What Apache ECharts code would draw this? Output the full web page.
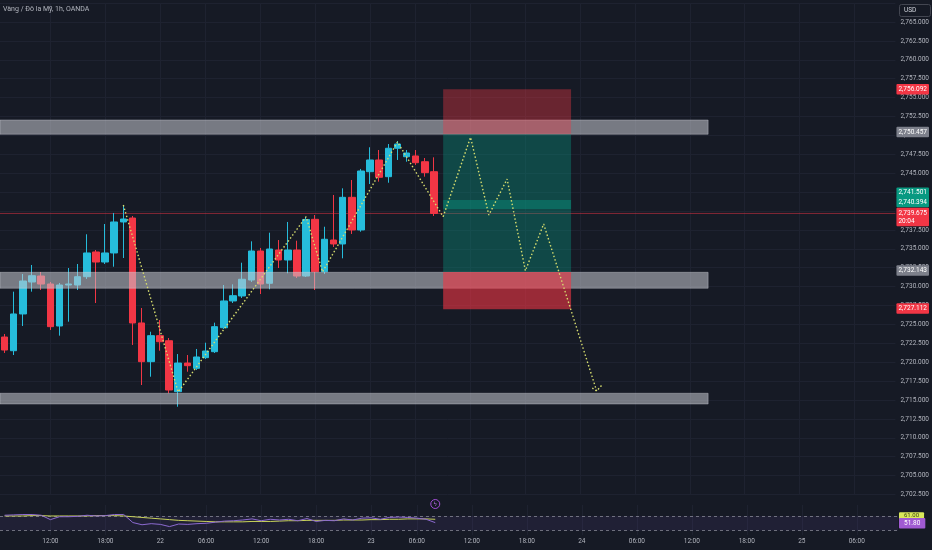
<!DOCTYPE html>
<html><head><meta charset="utf-8">
<script src="https://cdn.jsdelivr.net/npm/echarts@6/dist/echarts.min.js"></script>
<style>html,body{margin:0;padding:0;background:#161a25;}#c{width:932px;height:550px;}</style>
</head><body><div id="c"></div>
<script>
// ---------- data ----------
const chartTitle = 'Vàng / Đô la Mỹ, 1h, OANDA';
const currencyLabel = 'USD';
const countdownText = '20:04';
const firstDay = 21, firstHour = 7, slotCount = 98, closedHour = 5, closedDays = [22, 23];

const opens = [2723.33, 2721.52, 2726.38, 2730.61, 2731.40, 2730.34, 2724.79, 2730.21, 2730.21, 2731.31, 2734.58, 2733.25, 2734.45, 2738.55, 2739.07, 2725.19, 2720.07,
  2723.51, 2722.84, 2716.10, 2719.89, 2719.19, 2720.60, 2721.39, 2724.56, 2728.10, 2728.76, 2730.87, 2734.71, 2730.44, 2734.84, 2733.52, 2734.84, 2731.40, 2738.90, 2731.97, 2736.16, 2735.64, 2741.81, 2737.49,
  2745.20, 2746.75, 2744.54, 2748.30, 2747.18, 2747.28, 2746.52, 2745.20];
const closes = [2721.61, 2726.38, 2730.74, 2731.44, 2730.34, 2724.70, 2730.21, 2730.34, 2731.31, 2734.45, 2733.25, 2734.45, 2738.55, 2738.94, 2725.19, 2720.07, 2723.51,
  2722.71, 2716.32, 2719.89, 2719.54, 2720.69, 2721.48, 2724.70, 2728.10, 2728.80, 2730.97, 2734.71, 2730.34, 2734.97, 2733.52, 2734.84, 2731.40, 2738.88, 2731.97, 2736.26, 2735.64, 2741.81, 2737.49, 2745.29,
  2746.75, 2744.46, 2748.30, 2748.86, 2747.67, 2746.39, 2745.07, 2739.675];
const highs = [2723.73, 2729.33, 2731.67, 2732.86, 2731.93, 2730.61, 2730.48, 2732.46, 2732.99, 2736.92, 2734.84, 2738.28, 2739.74, 2740.79, 2739.34, 2727.17, 2724.03,
  2725.58, 2723.20, 2721.08, 2720.95, 2721.75, 2722.58, 2725.23, 2730.21, 2730.30, 2733.16, 2735.99, 2735.11, 2737.13, 2736.16, 2738.55, 2736.07, 2739.21, 2739.47, 2737.92, 2742.12, 2743.00, 2744.10, 2745.56,
  2748.43, 2748.07, 2748.86, 2749.26, 2748.07, 2748.07, 2747.01, 2747.10];
const lows = [2721.22, 2720.95, 2724.79, 2729.33, 2729.55, 2724.26, 2723.51, 2725.36, 2729.55, 2731.01, 2727.83, 2732.99, 2732.63, 2733.78, 2722.28, 2716.98, 2718.08,
  2721.52, 2715.89, 2714.11, 2718.74, 2718.97, 2720.42, 2721.22, 2724.39, 2727.83, 2728.49, 2730.61, 2729.02, 2729.64, 2732.46, 2731.76, 2731.14, 2731.27, 2729.55, 2731.67, 2735.24, 2733.74, 2736.96, 2737.26,
  2743.57, 2743.88, 2743.74, 2746.75, 2746.52, 2746.09, 2744.54, 2739.34];

const rsiValues = [72, 73, 74, 74, 72, 60, 68, 68, 69, 72, 70, 71, 74, 74, 52, 46, 49, 47, 41, 48, 47, 49, 50, 53, 56, 57, 59, 62, 57, 61, 59, 61, 57, 63, 55, 58, 57, 62, 59, 64, 65, 61, 66, 67, 66, 64, 61, 51.8];
const rsiMaValues = [70, 70, 70, 71, 71, 70, 70, 70, 70, 70, 71, 71, 71, 70, 68, 66, 64, 62, 60, 58, 57, 56, 55, 54, 54, 54, 54, 55, 55, 55, 56, 57, 57, 58, 58, 58, 58, 59, 59, 59, 60, 60, 61, 61, 62, 62, 62, 61];
const rsiLevels = [70, 30];

// price-axis ticks
const priceMin = 2702.5, priceMax = 2767.5, priceStep = 2.5;

// horizontal zones (gray rectangles), from left edge to slot bandEndSlot
const bandTops = [2752.04, 2731.89, 2715.89];
const bandBottoms = [2750.15, 2729.78, 2714.47];
const bandEndSlot = 77;
// position tool
const posStartSlot = 48, posEndSlot = 62;
const stopZone = [2756.09, 2750.15];
const targetZone = [2750.15, 2731.93];
const entryZone = [2741.45, 2740.25];
const lowerStopZone = [2731.93, 2727.0];

// dotted zig-zag drawings (slot index, price)
const pastPathX = [13, 19, 33, 34.8, 43, 48];
const pastPathY = [2740.79, 2716.06, 2739.25, 2731.95, 2749.13, 2739.25];
const projPathX = [48, 51, 53, 55, 57, 59, 64.8];
const projPathY = [2739.25, 2749.75, 2739.47, 2744.23, 2732.10, 2738.28, 2716.19];
const arrowX = [64.32, 64.8, 65.38];
const arrowY = [2716.59, 2716.19, 2716.98];

// price tags on the axis
const tagValues = [2756.092, 2750.457, 2741.501, 2740.394, 2739.675, 2732.143, 2727.112];
const tagKinds = ['red', 'gray', 'green', 'green', 'red', 'gray', 'red'];
const lastPrice = 2739.675;

// ---------- build ----------
const categories = [];
{
  let d = firstDay, h = firstHour;
  while (categories.length < slotCount) {
    if (!(h === closedHour && closedDays.includes(d))) categories.push(d + ' ' + String(h).padStart(2, '0') + ':00');
    h++; if (h === 24) { h = 0; d++; }
  }
}
const hourOf = v => parseInt(v.split(' ')[1], 10);
const isLabelSlot = v => hourOf(v) % 6 === 0;
const labelSlots = categories.map((v, i) => isLabelSlot(v) ? i : -1).filter(i => i >= 0);
const fmtTime = v => { const [d, t] = v.split(' '); return t === '00:00' ? d : t; };
const fmtPrice = v => v.toLocaleString('en-US', {minimumFractionDigits: 3, maximumFractionDigits: 3});

const candles = opens.map((o, i) => [o, closes[i], lows[i], highs[i]]);
const FONT = 'Roboto, sans-serif';
const UP = '#26bcdb', DOWN = '#f23645', GREEN = '#089981', GRAY = '#7d808b';
const GRID = '#1e2230';
const NONE = 'rgba(0,0,0,0)';
const tagColor = {red: DOWN, gray: GRAY, green: GREEN};
const tagOffsets = [0, 0, -7, -6, 3.5, 0, 0];

const dotted = {type: [1.5, 2.2], width: 1.4, color: '#d6dc6e'};
const zoneRect = (x0, x1, a, b, style) => [{xAxis: x0, yAxis: a, itemStyle: style}, {xAxis: x1, yAxis: b}];
const bandStyle = {color: 'rgba(200,202,210,0.55)', borderColor: 'rgba(220,222,230,0.35)', borderWidth: 1};

const zoneData = [];
bandTops.forEach((t, i) => zoneData.push(zoneRect(-0.5, bandEndSlot, t, bandBottoms[i], bandStyle)));
zoneData.push(zoneRect(posStartSlot, posEndSlot, stopZone[0], stopZone[1], {color: 'rgba(242,54,69,0.38)'}));
zoneData.push(zoneRect(posStartSlot, posEndSlot, targetZone[0], targetZone[1], {color: 'rgba(8,153,129,0.37)'}));
zoneData.push(zoneRect(posStartSlot, posEndSlot, entryZone[0], entryZone[1], {color: 'rgba(8,153,129,0.42)'}));
zoneData.push(zoneRect(posStartSlot, posEndSlot, lowerStopZone[0], lowerStopZone[1], {color: 'rgba(242,54,69,0.6)'}));

const tagLabel = (text, bg, fg, extra) => Object.assign({
  show: true, position: 'end', distance: 1, formatter: () => text,
  color: fg, backgroundColor: bg, padding: [1.5, 2, 1, 2],
  fontSize: 6.5, fontFamily: FONT, lineHeight: 8, borderRadius: 1
}, extra || {});

const tagLines = tagValues.map((v, i) => {
  const isLast = v === lastPrice;
  return {
    yAxis: v,
    lineStyle: {color: NONE, width: 0},
    label: tagLabel(isLast ? fmtPrice(v) + '\n' + countdownText : fmtPrice(v), tagColor[tagKinds[i]], '#ffffff', {offset: [0, tagOffsets[i]]})
  };
});

const rsiLast = rsiValues[rsiValues.length - 1];
const maLast = rsiMaValues[rsiMaValues.length - 1];

const chart = echarts.init(document.getElementById('c'));
chart.setOption({
  backgroundColor: '#161a25',
  animation: false,
  title: {text: chartTitle, left: 3, top: 6, padding: 0, textStyle: {color: '#b2b5be', fontSize: 7, fontWeight: 'normal', fontFamily: FONT}},
  grid: [
    {left: -5, width: 903, top: 3.1, height: 491.4},
    {left: -5, width: 903, top: 505, height: 30}
  ],
  xAxis: [
    {type: 'category', gridIndex: 0, data: categories, boundaryGap: true, show: false},
    {type: 'value', gridIndex: 0, min: -0.5, max: slotCount - 0.5, show: false},
    {type: 'category', gridIndex: 1, data: categories, boundaryGap: true,
      axisLine: {show: false}, axisTick: {show: false}, splitLine: {show: false},
      axisLabel: {interval: (i, v) => isLabelSlot(v), formatter: fmtTime, color: '#b2b5be', fontSize: 6.5, fontFamily: FONT, margin: 3}},
    {type: 'value', gridIndex: 1, min: -0.5, max: slotCount - 0.5, show: false}
  ],
  yAxis: [
    {type: 'value', gridIndex: 0, position: 'right', min: priceMin, max: priceMax, interval: priceStep,
      axisLine: {show: false}, axisTick: {show: false},
      axisLabel: {formatter: v => v >= priceMax - 0.01 ? '' : fmtPrice(v), color: '#b2b5be', fontSize: 6.5, fontFamily: FONT, margin: 5},
      splitLine: {lineStyle: {color: GRID, width: 1}}},
    {type: 'value', gridIndex: 1, min: 18, max: 100, show: false}
  ],
  series: [
    {type: 'line', name: 'vgrid0', xAxisIndex: 1, yAxisIndex: 0, data: [], z: 0, silent: true,
      markLine: {z: 0, silent: true, symbol: ['none', 'none'], label: {show: false}, lineStyle: {color: GRID, width: 1, type: 'solid'},
        data: labelSlots.map(s => ({xAxis: s}))}},
    {type: 'line', name: 'lastPriceLine', xAxisIndex: 1, yAxisIndex: 0, z: 1, symbol: 'none', silent: true,
      data: [[-0.5, lastPrice], [slotCount - 0.5, lastPrice]], lineStyle: {color: 'rgba(242,54,69,0.5)', width: 1, type: 'solid'}},
    {type: 'candlestick', name: 'XAUUSD', xAxisIndex: 0, yAxisIndex: 0, z: 3, barWidth: 7, data: candles,
      itemStyle: {color: UP, color0: DOWN, borderColor: UP, borderColor0: DOWN, borderWidth: 1}},
    {type: 'line', name: 'zones', xAxisIndex: 1, yAxisIndex: 0, data: [], z: 4, silent: true,
      markArea: {z: 4, silent: true, label: {show: false}, data: zoneData}},
    {type: 'line', name: 'pastPath', xAxisIndex: 1, yAxisIndex: 0, z: 5, symbol: 'none', silent: true,
      data: pastPathX.map((x, i) => [x, pastPathY[i]]), lineStyle: dotted},
    {type: 'line', name: 'projPath', xAxisIndex: 1, yAxisIndex: 0, z: 5, symbol: 'none', silent: true,
      data: projPathX.map((x, i) => [x, projPathY[i]]), lineStyle: dotted},
    {type: 'line', name: 'arrow', xAxisIndex: 1, yAxisIndex: 0, z: 5, symbol: 'none', silent: true,
      data: arrowX.map((x, i) => [x, arrowY[i]]), lineStyle: dotted},
    {type: 'line', name: 'tags', xAxisIndex: 1, yAxisIndex: 0, data: [], z: 6, clip: false, silent: true,
      markLine: {z: 6, silent: true, symbol: ['none', 'none'], lineStyle: {color: NONE, width: 0}, data: tagLines}},
    // RSI pane
    {type: 'line', name: 'vgrid1', xAxisIndex: 3, yAxisIndex: 1, data: [], z: 0, silent: true,
      markLine: {z: 0, silent: true, symbol: ['none', 'none'], label: {show: false}, lineStyle: {color: GRID, width: 1, type: 'solid'},
        data: labelSlots.map(s => ({xAxis: s}))},
      markArea: {z: 1, silent: true, itemStyle: {color: 'rgba(126,87,194,0.1)'}, data: [[{yAxis: rsiLevels[0]}, {yAxis: rsiLevels[1]}]]}},
    {type: 'line', name: 'rsiLevels', xAxisIndex: 3, yAxisIndex: 1, data: [], z: 1, silent: true,
      markLine: {z: 1, silent: true, symbol: ['none', 'none'], label: {show: false},
        lineStyle: {color: 'rgba(178,181,190,0.55)', width: 1, type: [3, 3]},
        data: rsiLevels.map(v => ({yAxis: v}))}},
    {type: 'line', name: 'RSI MA', xAxisIndex: 2, yAxisIndex: 1, data: rsiMaValues, symbol: 'none', z: 2,
      lineStyle: {color: '#c9d35a', width: 1}},
    {type: 'line', name: 'RSI', xAxisIndex: 2, yAxisIndex: 1, data: rsiValues, symbol: 'none', z: 3,
      lineStyle: {color: '#8c6ad0', width: 1}},
    {type: 'line', name: 'rsiTags', xAxisIndex: 3, yAxisIndex: 1, data: [], z: 6, clip: false, silent: true,
      markLine: {z: 6, silent: true, symbol: ['none', 'none'], data: [
        {yAxis: maLast, lineStyle: {color: NONE, width: 0},
          label: tagLabel(maLast.toFixed(2), '#d9e85a', '#3b3d12', {padding: [0.5, 5, 0.5, 5], fontSize: 6, lineHeight: 6, offset: [0, -3.5]})},
        {yAxis: rsiLast, lineStyle: {color: NONE, width: 0},
          label: tagLabel(rsiLast.toFixed(2), '#a05ad2', '#ffffff', {padding: [1.5, 5, 1, 5], offset: [0, 0.5]})}
      ]},
      markPoint: {z: 6, silent: true, symbol: 'circle', symbolSize: 9, symbolOffset: [0, -1],
        itemStyle: {color: '#161a25', borderColor: '#a24fd6', borderWidth: 1},
        label: {show: true, position: 'inside', formatter: 'ϟ', color: '#b46be0', fontSize: 6, fontFamily: 'DejaVu Sans'},
        data: [{coord: [opens.length - 1, 100]}]}}
  ],
  graphic: [
    {type: 'rect', z: 100, shape: {x: 899.5, y: 4.5, width: 31, height: 12, r: 2}, style: {fill: '#161a25', stroke: '#434651', lineWidth: 1}},
    {type: 'text', z: 101, x: 904, y: 10.5, style: {text: currencyLabel, fill: '#d1d4dc', fontSize: 6.5, fontFamily: FONT, verticalAlign: 'middle'}}
  ]
});
</script>
</body></html>
